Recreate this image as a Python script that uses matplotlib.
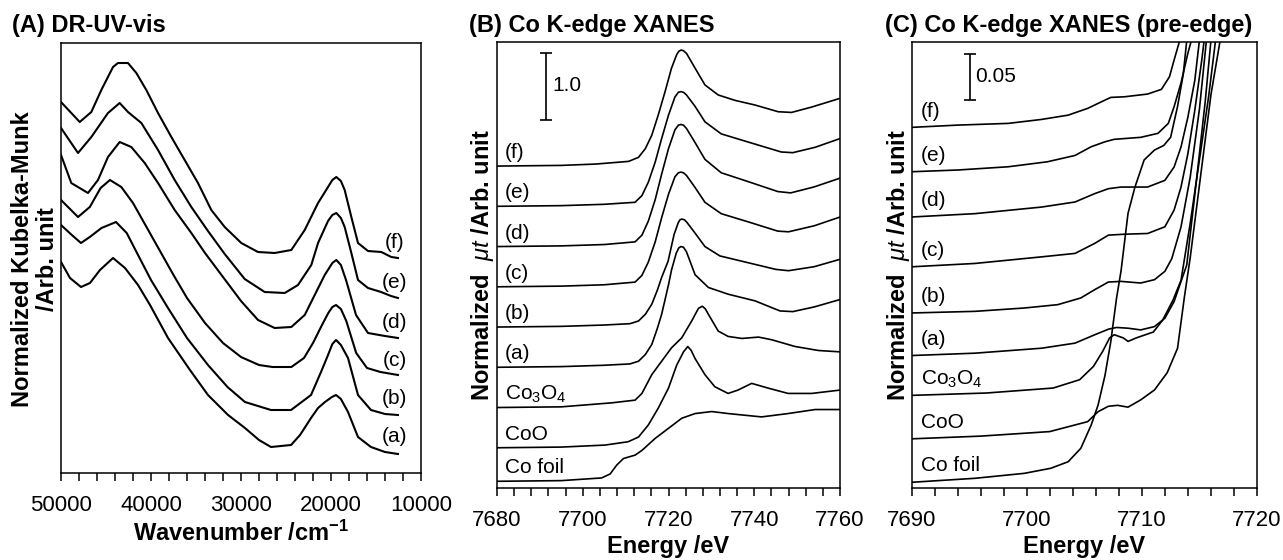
import matplotlib
matplotlib.use("Agg")
import matplotlib.pyplot as plt
from matplotlib.ticker import MultipleLocator

plt.rcParams['font.family'] = ['Liberation Sans', 'DejaVu Sans']
plt.rcParams['mathtext.fontset'] = 'custom'
plt.rcParams['mathtext.rm'] = 'Liberation Sans'
plt.rcParams['mathtext.it'] = 'Liberation Sans:italic'
plt.rcParams['mathtext.bf'] = 'Liberation Sans:bold'

# ---- (A) DR-UV-vis: (wavenumber /cm-1, Kubelka-Munk, arb.) ----
uv_a = [(50000, 21.1), (49000, 19.5), (47780, 18.6), (46780, 19.0), (45670, 20.3), (44220, 21.5),
        (42890, 20.5), (41440, 18.8), (40110, 16.8), (38110, 13.5), (35670, 10.3), (33670, 7.8),
        (31440, 5.8), (29560, 4.5), (28000, 3.3), (26670, 2.6), (24440, 2.8), (23440, 3.8),
        (22220, 5.5), (21440, 6.5), (20670, 7.1), (19900, 7.6), (19440, 7.8), (18900, 7.4),
        (18110, 6.1), (17000, 3.6), (15560, 2.6), (14000, 2.1), (12560, 1.9)]
uv_b = [(50000, 20.8), (48800, 19.8), (47780, 19.0), (46800, 19.6), (45500, 20.5), (43890, 21.1),
        (42700, 20.0), (41440, 17.8), (40000, 15.3), (38110, 12.5), (36000, 9.5), (33670, 6.8),
        (31500, 4.6), (29560, 3.1), (26670, 2.3), (24440, 2.3), (22220, 3.8), (21110, 6.1),
        (20330, 7.8), (19850, 8.9), (19440, 9.3), (18900, 8.8), (18110, 7.5), (17000, 3.8),
        (15560, 2.3), (14000, 1.9), (12560, 1.8)]
uv_c = [(50000, 19.3), (48110, 17.6), (46800, 18.6), (45600, 20.5), (44560, 21.3), (43300, 20.6),
        (42000, 19.0), (40500, 16.6), (39000, 14.2), (37500, 11.8), (36000, 9.5), (34000, 7.0),
        (32000, 5.0), (30000, 3.6), (28000, 2.8), (26500, 2.6), (24400, 2.6), (23000, 3.5),
        (22000, 5.0), (21000, 6.8), (20300, 8.0), (19850, 8.6), (19440, 8.8), (18900, 8.4),
        (18300, 7.2), (17200, 4.0), (16000, 2.5), (14500, 2.1), (12560, 1.8)]
uv_d = [(50000, 19.8), (48860, 17.0), (47000, 16.0), (45890, 17.3), (44780, 19.6), (43480, 21.1),
        (42190, 20.6), (40700, 19.0), (39220, 17.0), (37370, 14.3), (35520, 12.0), (34000, 10.0),
        (32000, 7.6), (30000, 5.2), (28110, 3.3), (26260, 2.5), (24410, 2.6), (22920, 3.8),
        (21810, 5.8), (20700, 7.8), (19850, 9.0), (19410, 9.3), (18900, 8.8), (18330, 7.3),
        (17220, 3.8), (15890, 2.0), (14000, 1.7), (12560, 1.5)]
uv_e = [(50000, 18.5), (48110, 16.0), (46630, 17.6), (44780, 20.0), (43480, 21.0), (42560, 20.1),
        (41070, 19.0), (39220, 16.3), (37370, 13.3), (35520, 10.6), (33670, 8.2), (31810, 5.9),
        (29590, 3.4), (27370, 2.1), (25140, 2.0), (23670, 2.8), (22190, 4.8), (21440, 7.0),
        (20330, 9.2), (19850, 9.8), (19410, 10.0), (18900, 9.5), (18480, 8.6), (17740, 6.0),
        (17000, 3.3), (15890, 2.5), (14440, 2.1), (13330, 1.7), (12560, 1.5)]
uv_f = [(50000, 17.1), (47920, 15.1), (46630, 16.1), (45520, 18.3), (44220, 20.6), (43670, 21.0),
        (42560, 21.0), (41630, 20.0), (40520, 18.3), (39220, 16.0), (37740, 13.6), (36260, 11.3),
        (34780, 9.0), (33300, 6.3), (31810, 4.6), (29970, 3.0), (28110, 2.1), (26260, 2.0),
        (24410, 2.3), (22920, 4.3), (21440, 7.0), (20330, 8.6), (19850, 9.3), (19410, 9.6),
        (18900, 9.2), (18480, 8.3), (17740, 5.6), (17000, 3.0), (15890, 2.2), (14410, 2.1),
        (13300, 1.6), (12560, 1.5)]
uv_spectra = [uv_a, uv_b, uv_c, uv_d, uv_e, uv_f]
uv_names = ['(a)', '(b)', '(c)', '(d)', '(e)', '(f)']
uv_offsets = [0, 4, 8, 12, 16, 20]
uv_label_y = [3.6, 7.5, 11.3, 15.1, 19.0, 23.0]

# ---- (B) Co K-edge XANES: (energy /eV, normalized mu t) ----
xan_foil = [(7680, 0), (7695, 0.01), (7704.4, 0.05), (7706.4, 0.11), (7707.9, 0.24), (7709.5, 0.34),
            (7712.2, 0.39), (7713.8, 0.46), (7716.9, 0.64), (7720.0, 0.79), (7723.1, 0.94),
            (7726.2, 1.01), (7730.1, 1.04), (7733.9, 1.01), (7741.7, 0.96), (7747.9, 1.01),
            (7754.2, 1.07), (7760, 1.07)]
xan_coo = [(7680, 0), (7695, 0.01), (7705.2, 0.04), (7710.6, 0.09), (7713.0, 0.16), (7715.3, 0.34),
           (7717.6, 0.59), (7720.0, 0.89), (7721.9, 1.23), (7723.5, 1.43), (7724.5, 1.51),
           (7725.3, 1.45), (7726.2, 1.33), (7728.5, 1.09), (7730.8, 0.91), (7733.9, 0.81),
           (7736.2, 0.86), (7739.4, 0.96), (7743.2, 0.89), (7747.9, 0.81), (7753.4, 0.81), (7760, 0.86)]
xan_co3o4 = [(7680, 0), (7695, 0.01), (7706.8, 0.07), (7712.2, 0.11), (7713.8, 0.21), (7716.1, 0.49),
             (7718.4, 0.69), (7720.7, 0.89), (7723.1, 1.04), (7725.4, 1.29), (7727.0, 1.48),
             (7727.9, 1.51), (7728.6, 1.47), (7729.3, 1.39), (7731.6, 1.14), (7733.9, 1.06),
             (7737.1, 1.03), (7741.0, 1.05), (7744.1, 1.01), (7749.5, 0.91), (7755.0, 0.85), (7760, 0.83)]
xan_a = [(7680, 0), (7695, 0.01), (7705, 0.03), (7711, 0.05), (7713, 0.09), (7714.6, 0.19),
         (7716.1, 0.34), (7717.4, 0.58), (7718.4, 0.79), (7720.0, 1.23), (7720.7, 1.45),
         (7721.8, 1.70), (7722.4, 1.78), (7722.9, 1.80), (7723.5, 1.79), (7724.2, 1.72),
         (7726.2, 1.38), (7729.3, 1.19), (7733.9, 1.09), (7740.2, 0.99), (7746, 0.84), (7749, 0.83),
         (7754, 0.90), (7760, 1.01)]
xan_b = [(7680, 0), (7695, 0.01), (7705, 0.03), (7711, 0.05), (7713, 0.09), (7714.6, 0.19),
         (7716.1, 0.34), (7717.4, 0.55), (7718.4, 0.74), (7719.9, 0.98), (7721.3, 1.38),
         (7722.3, 1.56), (7722.7, 1.60), (7723.1, 1.61), (7723.7, 1.60), (7724.3, 1.56),
         (7726.2, 1.40), (7728.5, 1.20), (7732, 1.06), (7738.5, 0.96), (7745, 0.86), (7748, 0.84),
         (7754, 0.90), (7760, 1.01)]
xan_c = [(7680, 0), (7695, 0.01), (7705, 0.03), (7712.2, 0.07), (7713.8, 0.17), (7715.3, 0.37),
         (7716.9, 0.67), (7718.4, 1.03), (7720.0, 1.38), (7721.5, 1.64), (7722.3, 1.70),
         (7722.9, 1.71), (7723.5, 1.70), (7724.2, 1.66), (7726.2, 1.48), (7728.5, 1.26),
         (7732.3, 1.09), (7738.5, 0.97), (7745.5, 0.83), (7748, 0.82), (7754, 0.91), (7760, 1.04)]
xan_d = [(7680, 0), (7695, 0.01), (7705, 0.03), (7712.2, 0.07), (7713.8, 0.17), (7715.3, 0.38),
         (7716.9, 0.70), (7718.4, 1.08), (7720.0, 1.46), (7721.5, 1.74), (7722.3, 1.81),
         (7722.9, 1.82), (7723.5, 1.81), (7724.2, 1.76), (7726.2, 1.55), (7728.5, 1.30),
         (7732.3, 1.10), (7738.5, 0.97), (7745.5, 0.82), (7748.5, 0.80), (7754, 0.89), (7760, 1.02)]
xan_e = [(7680, 0), (7695, 0.01), (7705, 0.03), (7712.2, 0.06), (7713.8, 0.16), (7715.3, 0.36),
         (7716.9, 0.66), (7718.4, 1.01), (7720.0, 1.36), (7721.5, 1.63), (7722.3, 1.70),
         (7722.9, 1.71), (7723.5, 1.70), (7724.2, 1.66), (7726.2, 1.49), (7728.5, 1.26),
         (7732.3, 1.08), (7738.5, 0.96), (7746.3, 0.81), (7749, 0.80), (7754.2, 0.88), (7760, 1.01)]
xan_f = [(7680, 0), (7695, 0.01), (7703, 0.03), (7710.7, 0.07), (7713, 0.13), (7714.6, 0.26),
         (7716.1, 0.46), (7717.6, 0.76), (7719.2, 1.11), (7720.7, 1.46), (7721.9, 1.66),
         (7722.4, 1.71), (7722.9, 1.73), (7723.5, 1.72), (7724.2, 1.68), (7726.2, 1.46),
         (7728.5, 1.21), (7731.6, 1.06), (7735.5, 0.98), (7740.2, 0.91), (7745.6, 0.81),
         (7748.7, 0.80), (7753.4, 0.88), (7760, 1.01)]
xan_spectra = [xan_foil, xan_coo, xan_co3o4, xan_a, xan_b, xan_c, xan_d, xan_e, xan_f]
xan_names = ['Co foil', 'CoO', 'Co$_3$O$_4$', '(a)', '(b)', '(c)', '(d)', '(e)', '(f)']
xan_offsets = [0, 0.5, 1.1, 1.7, 2.3, 2.9, 3.5, 4.1, 4.7]

# ---- (C) pre-edge region of the same spectra ----
pre_foil = [(7690, 0), (7695.5, 0.0044), (7699.8, 0.0099), (7702.1, 0.0155), (7703.6, 0.0227),
            (7704.7, 0.0375), (7705.6, 0.0632), (7706.2, 0.0853), (7706.8, 0.118), (7707.3, 0.155),
            (7707.8, 0.203), (7708.2, 0.234), (7708.8, 0.297), (7709.4, 0.326), (7710.2, 0.356),
            (7711.1, 0.367), (7711.9, 0.372), (7712.5, 0.381), (7713.1, 0.415), (7713.6, 0.451),
            (7713.9, 0.488), (7714.2, 0.52)]
pre_coo = [(7690, 0), (7696, 0.003), (7702, 0.008), (7705.3, 0.019), (7706.2, 0.030), (7707.1, 0.036),
           (7707.9, 0.037), (7708.8, 0.035), (7709.9, 0.043), (7711.1, 0.054), (7712.2, 0.073),
           (7713.1, 0.10), (7713.7, 0.157), (7714.2, 0.20), (7715.2, 0.30), (7716.0, 0.38),
           (7716.8, 0.44), (7717.2, 0.47)]
pre_co3o4 = [(7690, 0), (7696.5, 0.0026), (7702.3, 0.0081), (7704.6, 0.0173), (7705.8, 0.032),
             (7706.6, 0.0486), (7707.2, 0.0634), (7707.6, 0.067), (7708.4, 0.0634), (7708.8, 0.0596),
             (7709.5, 0.0634), (7711.0, 0.070), (7711.8, 0.083), (7712.7, 0.105), (7713.4, 0.127),
             (7714.2, 0.19), (7715.0, 0.26), (7715.8, 0.33), (7716.4, 0.392), (7716.8, 0.43)]
pre_a = [(7690, 0), (7695.5, 0.0026), (7701.3, 0.0081), (7704.2, 0.0137), (7705.9, 0.0229),
         (7707.1, 0.0291), (7707.8, 0.031), (7708.8, 0.0302), (7709.9, 0.0283), (7711.1, 0.032),
         (7712.0, 0.0412), (7712.8, 0.0596), (7713.4, 0.0817), (7713.9, 0.10), (7714.8, 0.20),
         (7715.5, 0.28), (7716.0, 0.348), (7716.4, 0.39)]
pre_b = [(7690, 0), (7695.5, 0.0018), (7699.8, 0.0055), (7702.7, 0.0092), (7704.7, 0.0166),
         (7705.9, 0.0257), (7707.1, 0.0342), (7708.2, 0.0349), (7709.9, 0.0331), (7711.1, 0.0368),
         (7712.0, 0.046), (7712.6, 0.060), (7713.4, 0.095), (7714.2, 0.15), (7715.0, 0.225),
         (7715.6, 0.30), (7716.0, 0.34)]
pre_c = [(7690, 0), (7695.5, 0.0037), (7701.3, 0.011), (7704.2, 0.0148), (7705.9, 0.0258),
         (7707.1, 0.035), (7708.5, 0.036), (7710.5, 0.0368), (7712.0, 0.0442), (7712.8, 0.0626),
         (7713.4, 0.088), (7714.0, 0.125), (7714.6, 0.173), (7715.2, 0.228), (7715.6, 0.27)]
pre_d = [(7690, 0), (7695.5, 0.0037), (7701.3, 0.011), (7704.2, 0.0166), (7705.9, 0.0258),
         (7707.1, 0.0313), (7708.2, 0.0331), (7710.5, 0.0331), (7712.0, 0.0405), (7712.8, 0.0552),
         (7713.4, 0.0773), (7714.0, 0.1104), (7714.6, 0.151), (7715.0, 0.195), (7715.5, 0.25)]
pre_e = [(7690, 0), (7694.0, 0.0019), (7698.4, 0.0055), (7701.8, 0.011), (7704.2, 0.018),
         (7705.6, 0.0276), (7706.8, 0.0331), (7707.6, 0.0358), (7709.9, 0.038), (7711.4, 0.0424),
         (7712.3, 0.0534), (7712.8, 0.0718), (7713.4, 0.098), (7714.0, 0.131), (7714.3, 0.145),
         (7714.8, 0.19)]
pre_f = [(7690, 0), (7694.0, 0.0025), (7698.4, 0.0044), (7701.3, 0.0088), (7703.6, 0.0135),
         (7705.3, 0.021), (7706.5, 0.0283), (7707.3, 0.0331), (7708.5, 0.0338), (7710.5, 0.0368),
         (7711.7, 0.042), (7712.4, 0.0559), (7712.8, 0.0743), (7713.3, 0.0964), (7714.0, 0.15)]
pre_spectra = [pre_foil, pre_coo, pre_co3o4, pre_a, pre_b, pre_c, pre_d, pre_e, pre_f]
pre_offsets = [0, 0.048, 0.096, 0.14, 0.187, 0.238, 0.293, 0.343, 0.392]

W, H = 1283, 560
fig = plt.figure(figsize=(W / 100, H / 100), dpi=100)


def box(l, t, r, b):
    return fig.add_axes([l / W, 1 - b / H, (r - l) / W, (b - t) / H])


def style(ax, major, minor):
    ax.xaxis.set_major_locator(MultipleLocator(major))
    ax.xaxis.set_minor_locator(MultipleLocator(minor))
    ax.tick_params(axis='x', which='both', direction='out', length=6, width=1.1,
                   labelsize=16, pad=10, top=False)
    ax.tick_params(axis='y', which='both', left=False, right=False, labelleft=False)
    for s in ax.spines.values():
        s.set_linewidth(1.1)


def draw(ax, spectra, offsets, lw):
    for pts, off in zip(spectra, offsets):
        xs = [p[0] for p in pts]
        ys = [p[1] + off for p in pts]
        ax.plot(xs, ys, color='black', lw=lw, solid_joinstyle='round')


# (A)
axA = box(61, 43, 421, 473)
draw(axA, uv_spectra, uv_offsets, 1.5)
axA.set_xlim(50000, 10000)
axA.set_ylim(0, 43)
style(axA, 10000, 2000)
for name, ly in zip(uv_names, uv_label_y):
    axA.text(12900, ly, name, fontsize=15, ha='center', va='center')
axA.set_xlabel('Wavenumber /cm$^{\\mathbf{-1}}$', fontsize=17, fontweight='bold', labelpad=3)
fig.text(35 / W, 1 - 259 / H, 'Normalized Kubelka-Munk\n/Arb. unit', rotation=90,
         fontsize=17, fontweight='bold', ha='center', va='center', linespacing=1.15)
fig.text(12 / W, 1 - 32 / H, '(A) DR-UV-vis', fontsize=17, fontweight='bold', va='baseline')

# (B)
axB = box(497, 42, 840, 488)
draw(axB, xan_spectra, xan_offsets, 1.2)
axB.set_xlim(7680, 7760)
axB.set_ylim(-0.1, 6.55)
style(axB, 20, 4)
for name, off in zip(xan_names, xan_offsets):
    axB.text(7681.9, off + 0.2, name, fontsize=15, ha='left', va='center')
axB.errorbar([7691.4], [5.88], yerr=[0.5], color='black', lw=1.2, capsize=4, capthick=1.2)
axB.text(7692.8, 5.9, '1.0', fontsize=15, ha='left', va='center')
axB.set_xlabel('Energy /eV', fontsize=17, fontweight='bold', labelpad=3)
fig.text(482 / W, 1 - 265 / H, 'Normalized  $\\mu t$ /Arb. unit', rotation=90,
         fontsize=17, fontweight='bold', ha='center', va='center')
fig.text(469 / W, 1 - 32 / H, '(B) Co K-edge XANES', fontsize=17, fontweight='bold', va='baseline')

# (C)
axC = box(911.5, 42, 1257, 488)
draw(axC, pre_spectra, pre_offsets, 1.2)
axC.set_xlim(7690, 7720)
axC.set_ylim(-0.0063, 0.4863)
style(axC, 10, 2)
for name, off in zip(xan_names, pre_offsets):
    axC.text(7690.8, off + 0.018, name, fontsize=15, ha='left', va='center')
axC.errorbar([7695.05], [0.4477], yerr=[0.025], color='black', lw=1.2, capsize=4, capthick=1.2)
axC.text(7695.5, 0.4477, '0.05', fontsize=15, ha='left', va='center')
axC.set_xlabel('Energy /eV', fontsize=17, fontweight='bold', labelpad=3)
fig.text(898 / W, 1 - 265 / H, 'Normalized  $\\mu t$ /Arb. unit', rotation=90,
         fontsize=17, fontweight='bold', ha='center', va='center')
fig.text(885 / W, 1 - 32 / H, '(C) Co K-edge XANES (pre-edge)', fontsize=17,
         fontweight='bold', va='baseline')

fig.savefig('out.png', dpi=100)
